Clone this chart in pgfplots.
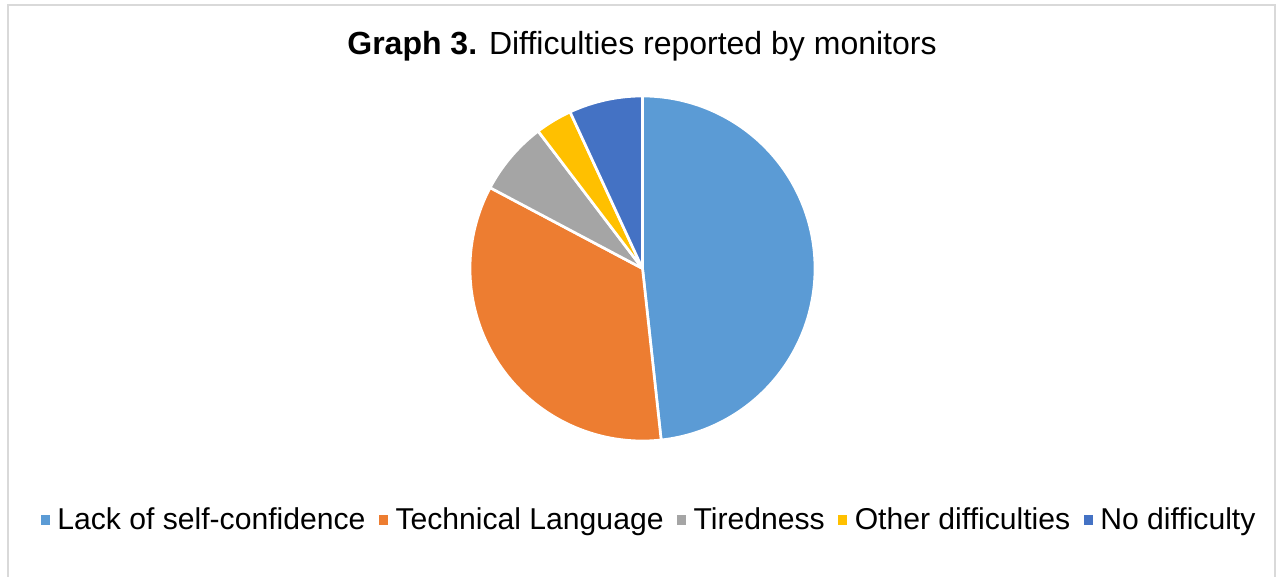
\documentclass[border=0pt]{standalone}
\usepackage{pgfplots}
\pgfplotsset{compat=1.18}
\usepackage{fontspec}
\setmainfont{Liberation Sans}
\definecolor{cA}{HTML}{5B9BD5}
\definecolor{cB}{HTML}{ED7D31}
\definecolor{cC}{HTML}{A5A5A5}
\definecolor{cD}{HTML}{FFC000}
\definecolor{cE}{HTML}{4472C4}
\definecolor{frame}{HTML}{D9D9D9}
% counts of monitors reporting each difficulty
\def\nA{14}\def\nB{10}\def\nC{2}\def\nD{1}\def\nE{2}
\pgfmathsetmacro\ntot{\nA+\nB+\nC+\nD+\nE}
\pgfmathsetmacro\aA{90}
\pgfmathsetmacro\aB{\aA-360*\nA/\ntot}
\pgfmathsetmacro\aC{\aB-360*\nB/\ntot}
\pgfmathsetmacro\aD{\aC-360*\nC/\ntot}
\pgfmathsetmacro\aE{\aD-360*\nD/\ntot}
\pgfmathsetmacro\aF{\aE-360*\nE/\ntot}
\def\cx{642.5}\def\cy{308.5}\def\rr{172.5}
\begin{document}
\begin{tikzpicture}
\begin{axis}[
  scale only axis, width=957.75pt, height=432.75pt,
  xmin=0, xmax=1277, ymin=0, ymax=577,
  hide axis, clip=false,
  legend columns=5,
  legend style={draw=none, fill=none, at={(0.508,0.0988)}, anchor=center,
    font=\fontsize{22.6}{26}\selectfont,
    /tikz/every odd column/.append style={column sep=4.5pt},
    /tikz/every even column/.append style={column sep=9pt},
    nodes={inner sep=1pt}},
  legend image code/.code={\fill[#1,draw=none] (0pt,-3.6pt) rectangle (7pt,3.6pt);},
  every axis plot/.append style={line join=round},
]
\path[use as bounding box] (axis cs:0,0) rectangle (axis cs:1277,577);
\draw[frame, line width=1.1pt] (axis cs:8,-5) -- (axis cs:8,572) -- (axis cs:1275,572) -- (axis cs:1275,-5);
\node[font=\fontsize{24}{28}\selectfont] at (axis cs:642,531) {\textbf{Graph 3.} Difficulties reported by monitors};
\addplot[fill=cA, draw=white, line width=2pt, domain=\aB:\aA, samples=120, variable=\t]
  ({\cx+\rr*cos(\t)}, {\cy+\rr*sin(\t)}) -- (axis cs:\cx,\cy) -- cycle;
\addlegendentry{Lack of self-confidence}
\addplot[fill=cB, draw=white, line width=2pt, domain=\aC:\aB, samples=90, variable=\t]
  ({\cx+\rr*cos(\t)}, {\cy+\rr*sin(\t)}) -- (axis cs:\cx,\cy) -- cycle;
\addlegendentry{Technical Language}
\addplot[fill=cC, draw=white, line width=2pt, domain=\aD:\aC, samples=30, variable=\t]
  ({\cx+\rr*cos(\t)}, {\cy+\rr*sin(\t)}) -- (axis cs:\cx,\cy) -- cycle;
\addlegendentry{Tiredness}
\addplot[fill=cD, draw=white, line width=2pt, domain=\aE:\aD, samples=20, variable=\t]
  ({\cx+\rr*cos(\t)}, {\cy+\rr*sin(\t)}) -- (axis cs:\cx,\cy) -- cycle;
\addlegendentry{Other difficulties}
\addplot[fill=cE, draw=white, line width=2pt, domain=\aF:\aE, samples=30, variable=\t]
  ({\cx+\rr*cos(\t)}, {\cy+\rr*sin(\t)}) -- (axis cs:\cx,\cy) -- cycle;
\addlegendentry{No difficulty}
\end{axis}
\end{tikzpicture}
\end{document}
